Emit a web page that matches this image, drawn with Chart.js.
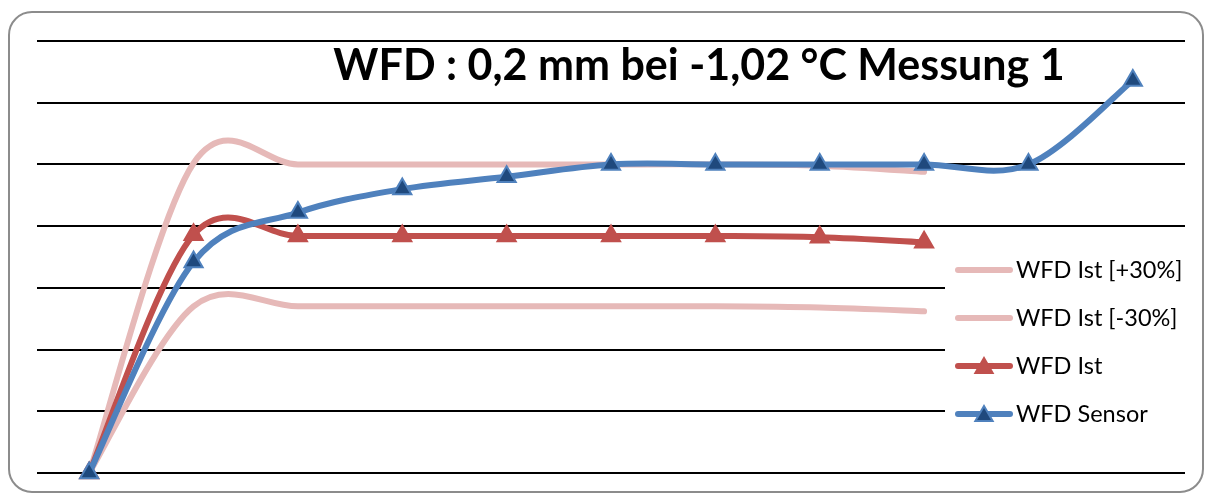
<!DOCTYPE html>
<html>
<head>
<meta charset="utf-8">
<script src="https://cdn.jsdelivr.net/npm/chart.js@4.4.1/dist/chart.umd.min.js"></script>
<style>
html, body { margin: 0; padding: 0; background: #fff; }
#wrap { position: relative; width: 1206px; height: 494px; }
#frame { position: absolute; left: 8px; top: 11px; width: 1196px; height: 482px; box-sizing: border-box;
         border: 2px solid #8c8c8c; border-radius: 24px; }
#chart { position: absolute; left: 0; top: 0; }
</style>
</head>
<body>
<div id="wrap">
  <div id="frame"></div>
  <canvas id="chart" width="1206" height="494"></canvas>
</div>
<script>
// values (mm)
var titleText = 'WFD : 0,2 mm bei -1,02 °C Messung 1';
var categories = ['1', '2', '3', '4', '5', '6', '7', '8', '9', '10', '11'];
var seriesNames = ['WFD Ist [+30%]', 'WFD Ist [-30%]', 'WFD Ist', 'WFD Sensor'];
var istPlus30  = [0, 0.251, 0.250, 0.250, 0.250, 0.250, 0.250, 0.249, 0.244];
var istMinus30 = [0, 0.135, 0.135, 0.135, 0.135, 0.135, 0.135, 0.134, 0.131];
var ist        = [0, 0.193, 0.192, 0.192, 0.192, 0.192, 0.192, 0.191, 0.187];
var sensor     = [0, 0.171, 0.211, 0.230, 0.240, 0.250, 0.250, 0.250, 0.250, 0.250, 0.318];
var yTicks     = [0, 0.05, 0.10, 0.15, 0.20, 0.25, 0.30, 0.35];

var pink = '#e6b9b8';
var red = '#c0504d';
var blue = '#4f81bd';
var darkBlue = '#1f497d';

function triangle(ctx, x, y, r, fill, stroke) {
  ctx.beginPath();
  ctx.moveTo(x, y - r);
  ctx.lineTo(x + 0.866 * r, y + 0.5 * r);
  ctx.lineTo(x - 0.866 * r, y + 0.5 * r);
  ctx.closePath();
  ctx.fillStyle = fill;
  ctx.fill();
  ctx.lineWidth = 2;
  ctx.strokeStyle = stroke;
  ctx.stroke();
}

// excel style smoothing: plain catmull-rom control points (1/6 of neighbour span)
var excelSmooth = {
  id: 'excelSmooth',
  beforeDatasetDraw: function (chart, args) {
    var meta = args.meta;
    var pts = meta.data;
    for (var i = 0; i < pts.length; i++) {
      var p = pts[i];
      var prev = pts[i - 1] || p;
      var next = pts[i + 1] || p;
      var dx = (next.x - prev.x) / 6;
      var dy = (next.y - prev.y) / 6;
      p.cp1x = p.x - dx;
      p.cp1y = p.y - dy;
      p.cp2x = p.x + dx;
      p.cp2y = p.y + dy;
    }
    meta.dataset._pointsUpdated = true;
  }
};

// title and legend sit on top of the plot, like in the excel chart
var overlay = {
  id: 'overlay',
  afterDraw: function (chart) {
    var ctx = chart.ctx;
    ctx.save();
    ctx.fillStyle = '#000';
    ctx.font = 'bold 43px Lato';
    ctx.textAlign = 'center';
    ctx.textBaseline = 'alphabetic';
    ctx.fillText(titleText, 699, 80);

    // legend box
    ctx.fillStyle = '#fff';
    ctx.fillRect(945, 244, 245, 202);
    var ys = [270, 318, 366, 414];
    chart.data.datasets.forEach(function (ds, i) {
      var y = ys[i];
      ctx.beginPath();
      ctx.lineCap = 'round';
      ctx.lineWidth = 6;
      ctx.strokeStyle = ds.borderColor;
      ctx.moveTo(958, y);
      ctx.lineTo(1010, y);
      ctx.stroke();
      if (ds.pointRadius > 0) {
        triangle(ctx, 984, y + 2, 10, ds.pointBackgroundColor, ds.pointBorderColor);
      }
      ctx.fillStyle = '#000';
      ctx.font = '23.5px Lato';
      ctx.textAlign = 'left';
      ctx.textBaseline = 'middle';
      ctx.fillText(ds.label, 1016, y);
    });
    ctx.restore();
  }
};

var ctx = document.getElementById('chart');
var myChart = new Chart(ctx, {
  type: 'line',
  data: {
    labels: categories,
    datasets: [{
      label: seriesNames[0],
      data: istPlus30,
      borderColor: pink,
      borderWidth: 6,
      pointRadius: 0,
      order: 3
    }, {
      label: seriesNames[1],
      data: istMinus30,
      borderColor: pink,
      borderWidth: 6,
      pointRadius: 0,
      order: 2
    }, {
      label: seriesNames[2],
      data: ist,
      borderColor: red,
      borderWidth: 6,
      pointStyle: 'triangle',
      pointRadius: 10.5,
      pointBackgroundColor: red,
      pointBorderColor: red,
      pointBorderWidth: 2,
      order: 1
    }, {
      label: seriesNames[3],
      data: sensor,
      borderColor: blue,
      borderWidth: 6,
      pointStyle: 'triangle',
      pointRadius: 10.5,
      pointBackgroundColor: darkBlue,
      pointBorderColor: blue,
      pointBorderWidth: 2,
      order: 0
    }]
  },
  options: {
    responsive: false,
    animation: false,
    clip: false,
    elements: { line: { tension: 0.4, borderJoinStyle: 'round', borderCapStyle: 'round' } },
    layout: { padding: { left: 37, right: 21, top: 41, bottom: 21 } },
    plugins: {
      legend: { display: false },
      title: { display: false },
      tooltip: { enabled: false }
    },
    scales: {
      x: { type: 'category', display: false, offset: true },
      y: {
        min: 0,
        max: 0.35,
        afterBuildTicks: function (scale) {
          scale.ticks = yTicks.map(function (v) { return { value: v }; });
        },
        ticks: { display: false },
        border: { display: false },
        grid: { color: '#000', lineWidth: 2, drawTicks: false }
      }
    }
  },
  plugins: [excelSmooth, overlay]
});
</script>
</body>
</html>
